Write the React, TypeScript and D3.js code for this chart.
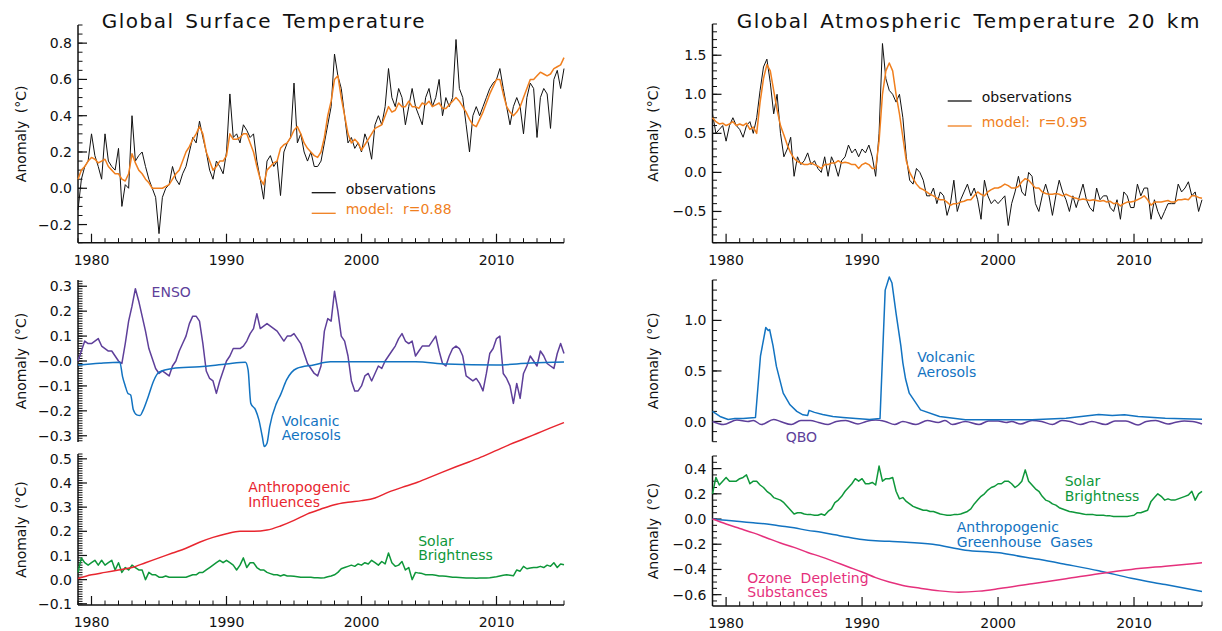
import React, { useEffect, useRef } from "react";
import * as d3 from "d3";

const W = 1222;
const H = 631;
const FONT = "'DejaVu Sans', Verdana, sans-serif";

// quarterly samples, 1979.00 .. 2015.00
const quarters = d3.range(0, 145).map(i => 1979 + i / 4);

// ---- Global surface temperature (quarterly) ----
const sfcObs = [
  -0.12, 0.05, 0.12, 0.15, 0.3, 0.18, 0.12, 0.05, 0.3, 0.15, 0.12, 0.1,
  0.22, -0.1, 0.02, 0.0, 0.4, 0.15, 0.18, 0.2, 0.12, 0.05, 0.0, -0.05,
  -0.25, -0.05, 0.0, 0.02, 0.12, 0.05, 0.02, 0.08, 0.12, 0.2, 0.28, 0.25,
  0.37, 0.28, 0.2, 0.1, 0.05, 0.15, 0.12, 0.08, 0.2, 0.52, 0.28, 0.3,
  0.25, 0.35, 0.32, 0.28, 0.3, 0.15, 0.05, -0.06, 0.15, 0.18, 0.12, 0.15,
  -0.04, 0.2, 0.25, 0.28, 0.58, 0.25, 0.3, 0.2, 0.15, 0.2, 0.12, 0.12,
  0.15, 0.25, 0.35, 0.45, 0.74, 0.62, 0.55, 0.4, 0.25, 0.28, 0.22, 0.25,
  0.2, 0.3, 0.25, 0.16, 0.35, 0.4, 0.35, 0.45, 0.66, 0.5, 0.45, 0.55,
  0.5, 0.35, 0.45, 0.55, 0.45, 0.4, 0.35, 0.5, 0.55, 0.45, 0.5, 0.6,
  0.4, 0.5, 0.45, 0.5, 0.82, 0.55, 0.5, 0.35, 0.2, 0.4, 0.45, 0.4,
  0.45, 0.5, 0.55, 0.58, 0.6, 0.66, 0.55, 0.45, 0.35, 0.45, 0.5, 0.45,
  0.3, 0.5, 0.58, 0.55, 0.28, 0.5, 0.55, 0.52, 0.33, 0.6, 0.65, 0.55,
  0.66,
];
const sfcModel = [
  0.05, 0.1, 0.12, 0.15, 0.17, 0.16, 0.14, 0.15, 0.16, 0.12, 0.1, 0.08,
  0.08, 0.05, 0.04, 0.08, 0.19, 0.14, 0.1, 0.08, 0.05, 0.03, 0.0, 0.0,
  0.0, 0.0, 0.01, 0.02, 0.05, 0.08, 0.1, 0.15, 0.2, 0.23, 0.27, 0.3,
  0.34, 0.3, 0.2, 0.15, 0.1, 0.12, 0.15, 0.15, 0.18, 0.3, 0.27, 0.27,
  0.28, 0.3, 0.3, 0.25, 0.2, 0.12, 0.05, 0.02, 0.1, 0.12, 0.14, 0.15,
  0.22, 0.24, 0.25, 0.28, 0.32, 0.34, 0.3, 0.25, 0.22, 0.2, 0.18, 0.17,
  0.2, 0.28, 0.4, 0.48, 0.6, 0.62, 0.5, 0.4, 0.3, 0.25, 0.27, 0.25,
  0.21, 0.24, 0.27, 0.3, 0.33, 0.34, 0.35, 0.4, 0.45, 0.42, 0.43, 0.47,
  0.45, 0.45, 0.48, 0.45, 0.45, 0.44, 0.47, 0.46, 0.48, 0.45, 0.46, 0.47,
  0.44, 0.44, 0.46, 0.48, 0.5, 0.48, 0.45, 0.42, 0.38, 0.35, 0.34, 0.38,
  0.42, 0.47, 0.52, 0.56, 0.6, 0.6, 0.52, 0.45, 0.42, 0.4, 0.42, 0.45,
  0.5, 0.55, 0.6, 0.6, 0.62, 0.64, 0.63, 0.62, 0.63, 0.66, 0.67, 0.68,
  0.72,
];

// ---- Atmospheric temperature 20 km (quarterly) ----
const atmObs = [
  0.75, 0.5, 0.55, 0.6, 0.4, 0.6, 0.7, 0.6, 0.55, 0.45, 0.6, 0.65,
  0.5, 0.7, 1.05, 1.35, 1.45, 1.15, 0.75, 1.0, 0.5, 0.2, 0.3, 0.45,
  -0.05, 0.2, 0.1, 0.15, 0.25, 0.1, 0.15, 0.05, 0.0, 0.2, -0.05, 0.2,
  0.1, -0.05, 0.15, 0.2, 0.35, 0.25, 0.3, 0.2, 0.3, 0.25, 0.35, 0.2,
  -0.05, 0.5, 1.65, 1.2, 1.05, 1.0, 0.9, 1.0, 0.7, 0.2, -0.1, -0.15,
  0.05, 0.0, -0.1, -0.3, -0.3, -0.2, -0.4, -0.25, -0.3, -0.55, -0.4, -0.1,
  -0.5, -0.35, -0.25, -0.15, -0.3, -0.2, -0.35, -0.6, -0.1, -0.3, -0.4, -0.35,
  -0.4, -0.35, -0.3, -0.68, -0.4, -0.25, -0.05, -0.25, -0.3, 0.0, -0.05, -0.4,
  -0.5, -0.3, -0.15, -0.3, -0.55, -0.3, -0.1, -0.25, -0.35, -0.5, -0.3, -0.45,
  -0.3, -0.15, -0.35, -0.45, -0.5, -0.2, -0.35, -0.3, -0.3, -0.45, -0.5, -0.35,
  -0.6, -0.25, -0.3, -0.45, -0.45, -0.15, -0.3, -0.2, -0.2, -0.6, -0.35, -0.5,
  -0.6, -0.5, -0.4, -0.4, -0.4, -0.15, -0.25, -0.2, -0.12, -0.3, -0.25, -0.5,
  -0.35,
];
const atmModel = [
  0.7, 0.65, 0.62, 0.63, 0.6, 0.62, 0.65, 0.6, 0.62, 0.6, 0.63, 0.55,
  0.58, 0.5, 0.9, 1.2, 1.38, 1.3, 1.05, 0.8, 0.6, 0.48, 0.35, 0.25,
  0.18, 0.14, 0.12, 0.1, 0.1, 0.12, 0.1, 0.08, 0.05, 0.1, 0.1, 0.12,
  0.12, 0.15, 0.12, 0.13, 0.12, 0.1, 0.1, 0.05, 0.1, 0.12, 0.1, 0.05,
  0.05, 0.4, 1.0, 1.3, 1.4, 1.3, 1.0, 0.75, 0.45, 0.15, 0.0, -0.08,
  -0.15, -0.2, -0.22, -0.25, -0.28, -0.3, -0.33, -0.35, -0.35, -0.38, -0.42, -0.4,
  -0.4, -0.38, -0.37, -0.35, -0.35, -0.3, -0.25, -0.28, -0.3, -0.25, -0.22, -0.2,
  -0.2, -0.18, -0.15, -0.17, -0.2, -0.2, -0.18, -0.12, -0.08, -0.1, -0.15, -0.2,
  -0.2, -0.25, -0.27, -0.28, -0.28, -0.27, -0.28, -0.3, -0.28, -0.3, -0.32, -0.33,
  -0.35, -0.34, -0.35, -0.36, -0.35, -0.36, -0.37, -0.36, -0.38, -0.37, -0.4, -0.39,
  -0.43, -0.4, -0.38, -0.38, -0.37, -0.35, -0.33, -0.3, -0.35, -0.42, -0.38, -0.38,
  -0.38, -0.37, -0.36, -0.38, -0.38, -0.35, -0.35, -0.34, -0.35, -0.3, -0.3, -0.32,
  -0.33,
];

// ---- Surface contributions ----
const enso = [
  0.0, 0.04, 0.08, 0.07, 0.07, 0.08, 0.09, 0.06, 0.05, 0.04, 0.04, 0.02,
  0.0, -0.01, 0.07, 0.16, 0.22, 0.29, 0.24, 0.18, 0.12, 0.05, 0.01, -0.03,
  -0.05, -0.04, -0.05, -0.06, -0.02, 0.0, 0.04, 0.07, 0.1, 0.15, 0.18, 0.18,
  0.16, 0.07, -0.04, -0.07, -0.08, -0.13, -0.08, -0.04, 0.0, 0.02, 0.05, 0.05,
  0.05, 0.06, 0.08, 0.11, 0.13, 0.19, 0.13, 0.14, 0.15, 0.14, 0.13, 0.12,
  0.1, 0.08, 0.1, 0.1, 0.11, 0.09, 0.07, 0.03, -0.01, -0.03, -0.05, -0.06,
  -0.02, 0.12, 0.17, 0.16, 0.28, 0.2, 0.1, 0.08, 0.02, -0.08, -0.12, -0.12,
  -0.1, -0.06, -0.05, -0.08, -0.05, -0.02, -0.03, 0.0, 0.02, 0.04, 0.06, 0.09,
  0.11, 0.08, 0.07, 0.08, 0.02, 0.04, 0.06, 0.06, 0.06, 0.08, 0.1, 0.04,
  -0.01, -0.02, 0.02, 0.05, 0.06, 0.05, 0.02, -0.06, -0.07, -0.08, -0.07, -0.09,
  -0.12, -0.05, 0.03, 0.05, 0.09, 0.1, -0.05, -0.07, -0.1, -0.17, -0.09, -0.15,
  -0.05, -0.02, 0.02, 0.0, -0.02, 0.04, 0.02, -0.01, -0.02, -0.03, 0.03, 0.07,
  0.03,
];
const solarSfc = [
  0.03, 0.09, 0.07, 0.06, 0.07, 0.08, 0.06, 0.08, 0.06, 0.07, 0.08, 0.04,
  0.07, 0.03, 0.05, 0.04, 0.06, 0.05, 0.04, 0.04, 0.0, 0.03, 0.02, 0.02,
  0.01, 0.01, 0.015, 0.01, 0.01, 0.01, 0.01, 0.01, 0.01, 0.015, 0.02, 0.02,
  0.03, 0.03, 0.04, 0.05, 0.06, 0.07, 0.08, 0.07, 0.08, 0.07, 0.06, 0.04,
  0.06, 0.09, 0.05, 0.07, 0.07, 0.05, 0.04, 0.04, 0.03, 0.025, 0.02, 0.02,
  0.015, 0.02, 0.015, 0.015, 0.014, 0.012, 0.01, 0.01, 0.01, 0.01, 0.008, 0.008,
  0.007, 0.008, 0.012, 0.015, 0.02, 0.03, 0.045, 0.05, 0.055, 0.06, 0.055, 0.065,
  0.06, 0.07, 0.065, 0.08, 0.07, 0.06, 0.075, 0.065, 0.11, 0.07, 0.055, 0.06,
  0.075, 0.04, 0.05, 0.0, 0.03, 0.027, 0.025, 0.02, 0.02, 0.02, 0.018, 0.015,
  0.015, 0.014, 0.012, 0.01, 0.01, 0.009, 0.008, 0.007, 0.007, 0.007, 0.006, 0.007,
  0.007, 0.007, 0.008, 0.01, 0.012, 0.015, 0.018, 0.02, 0.018, 0.016, 0.04, 0.035,
  0.055, 0.045, 0.048, 0.05, 0.05, 0.055, 0.05, 0.06, 0.055, 0.07, 0.05, 0.065,
  0.062,
];
const volcSfc: [number, number][] = [
  [1979, -0.016], [1980.6, -0.009], [1982.1, -0.005], [1982.3, -0.063], [1982.5, -0.1],
  [1982.7, -0.13], [1982.9, -0.136], [1983.1, -0.196], [1983.35, -0.216], [1983.6, -0.219],
  [1983.8, -0.2], [1984.2, -0.143], [1984.6, -0.08], [1985, -0.045], [1986, -0.03],
  [1988, -0.023], [1990, -0.012], [1991.4, -0.005], [1991.6, -0.036], [1991.8, -0.17],
  [1992.15, -0.196], [1992.4, -0.236], [1992.65, -0.303], [1992.8, -0.343], [1993.0, -0.33],
  [1993.2, -0.263], [1993.7, -0.17], [1994.0, -0.136], [1994.45, -0.076], [1995.2, -0.03],
  [1996.45, -0.016], [1997.7, -0.003], [2004, -0.003], [2006.3, -0.012], [2010, -0.016],
  [2012.5, -0.008], [2015, -0.004],
];
const anthSfc: [number, number][] = [
  [1979, 0.005], [1980, 0.02], [1981, 0.03], [1982, 0.04], [1983, 0.05], [1984, 0.07],
  [1985, 0.09], [1986, 0.11], [1987, 0.13], [1988, 0.155], [1989, 0.175], [1990, 0.19],
  [1991, 0.2], [1992, 0.2], [1993, 0.205], [1994, 0.222], [1995, 0.245], [1996, 0.272],
  [1997, 0.292], [1998, 0.31], [1999, 0.32], [2000, 0.327], [2001, 0.338], [2002, 0.362],
  [2003, 0.382], [2004, 0.4], [2005, 0.422], [2006, 0.445], [2007, 0.467], [2008, 0.488],
  [2009, 0.51], [2010, 0.535], [2011, 0.56], [2012, 0.582], [2013, 0.605], [2014, 0.628],
  [2015, 0.65],
];

// ---- Stratospheric contributions ----
const volcAtm: [number, number][] = [
  [1979, 0.1], [1979.55, 0.05], [1980.15, 0.02], [1980.65, 0.03], [1981.25, 0.03],
  [1982.16, 0.04], [1982.53, 0.65], [1982.92, 0.93], [1983.1, 0.9], [1983.2, 0.91],
  [1983.45, 0.75], [1983.7, 0.545], [1984.2, 0.28], [1984.7, 0.165], [1985.2, 0.1],
  [1985.65, 0.066], [1986.0, 0.06], [1986.1, 0.11], [1986.5, 0.09], [1987.1, 0.07],
  [1987.85, 0.05], [1988.6, 0.04], [1989.55, 0.03], [1990.55, 0.02], [1991.32, 0.03],
  [1991.7, 1.3], [1992.0, 1.43], [1992.2, 1.37], [1992.5, 1.07], [1992.85, 0.75],
  [1993.0, 0.58], [1993.2, 0.42], [1993.47, 0.28], [1994.3, 0.115], [1995.7, 0.05],
  [1997.6, 0.017], [2000.1, 0.017], [2002.5, 0.017], [2005.0, 0.033], [2007.4, 0.07],
  [2008.4, 0.06], [2009.3, 0.066], [2010.3, 0.05], [2012.3, 0.033], [2015, 0.023],
];
const qbo: [number, number][] = [
  [1979, 0.0], [1979.8, -0.03], [1980.8, 0.015], [1981.6, 0.0], [1982.0, 0.01], [1982.6, -0.03],
  [1983.5, 0.02], [1984.0, 0.0], [1984.8, -0.03], [1985.5, 0.01], [1986.2, 0.01], [1986.8, -0.01],
  [1987.5, -0.03], [1988.1, 0.0], [1988.8, 0.01], [1989.7, -0.025], [1990.3, 0.0], [1991.0, 0.015],
  [1991.7, 0.0], [1992.4, -0.03], [1993.0, 0.0], [1993.96, -0.03], [1994.8, 0.01], [1995.6, -0.01],
  [1996.1, 0.01], [1996.65, -0.03], [1997.6, 0.0], [1998.6, -0.03], [1999.3, 0.005], [2000.0, 0.005],
  [2000.6, -0.01], [2001.0, 0.0], [2001.65, -0.025], [2002.5, 0.01], [2003.2, 0.0], [2004.0, -0.03],
  [2004.7, 0.01], [2005.3, 0.0], [2006.05, -0.03], [2006.9, 0.0], [2007.9, -0.03], [2008.6, 0.005],
  [2009.4, 0.005], [2010.3, -0.035], [2010.9, 0.0], [2011.6, 0.01], [2012.5, -0.025], [2013.0, -0.01],
  [2013.7, 0.005], [2014.3, 0.0], [2015.0, -0.025],
];
const solarAtm = [
  0.2, 0.33, 0.27, 0.3, 0.33, 0.3, 0.3, 0.3, 0.32, 0.33, 0.35, 0.28,
  0.3, 0.3, 0.27, 0.25, 0.22, 0.2, 0.17, 0.16, 0.15, 0.13, 0.1, 0.07,
  0.04, 0.05, 0.05, 0.04, 0.035, 0.035, 0.03, 0.03, 0.04, 0.03, 0.06, 0.08,
  0.13, 0.15, 0.18, 0.22, 0.25, 0.28, 0.32, 0.3, 0.32, 0.28, 0.28, 0.29,
  0.27, 0.42, 0.3, 0.32, 0.32, 0.33, 0.22, 0.16, 0.17, 0.14, 0.12, 0.1,
  0.09, 0.08, 0.07, 0.07, 0.06, 0.06, 0.05, 0.04, 0.035, 0.03, 0.03, 0.035,
  0.035, 0.04, 0.05, 0.06, 0.08, 0.12, 0.15, 0.18, 0.2, 0.23, 0.25, 0.26,
  0.28, 0.28, 0.3, 0.3, 0.28, 0.25, 0.27, 0.3, 0.39, 0.3, 0.27, 0.24,
  0.22, 0.18, 0.15, 0.14, 0.12, 0.11, 0.09, 0.08, 0.07, 0.06, 0.055, 0.05,
  0.045, 0.04, 0.035, 0.035, 0.035, 0.03, 0.03, 0.03, 0.025, 0.025, 0.02, 0.02,
  0.02, 0.02, 0.02, 0.025, 0.03, 0.05, 0.05, 0.06, 0.07, 0.14, 0.17, 0.2,
  0.18, 0.15, 0.16, 0.15, 0.15, 0.16, 0.17, 0.18, 0.19, 0.22, 0.15, 0.2,
  0.22,
];
const ghgAtm: [number, number][] = [
  [1979, 0.0], [1980, -0.01], [1981, -0.02], [1982, -0.03], [1983, -0.04], [1984, -0.055],
  [1985, -0.07], [1986, -0.09], [1987, -0.105], [1988, -0.125], [1989, -0.145], [1990, -0.162],
  [1991, -0.172], [1992, -0.177], [1993, -0.182], [1995.2, -0.2], [1997.6, -0.247], [2000.1, -0.268],
  [2001.3, -0.29], [2003, -0.32], [2005, -0.36], [2007.4, -0.41], [2009.8, -0.47], [2012.3, -0.52],
  [2015, -0.575],
];
const odsAtm: [number, number][] = [
  [1979, 0.0], [1980, -0.04], [1981, -0.075], [1982, -0.11], [1983, -0.15], [1984, -0.19],
  [1985, -0.225], [1986, -0.265], [1987, -0.3], [1988, -0.34], [1989, -0.38], [1990, -0.42],
  [1991, -0.465], [1992, -0.5], [1993, -0.527], [1994.2, -0.548], [1995.7, -0.57], [1997.1, -0.58],
  [1998.6, -0.572], [2000.1, -0.552], [2002.5, -0.513], [2005, -0.474], [2007.4, -0.434],
  [2009.8, -0.4], [2012.3, -0.374], [2015, -0.347],
];

const decadeTicks = [1980, 1990, 2000, 2010];
const yearTicks = d3.range(1979, 2016);

const COL = {
  obs: "#111111",
  model: "#f07f1e",
  enso: "#5e3f9a",
  volc: "#1273c1",
  anth: "#e8262f",
  solar: "#0e973a",
  ods: "#e5307c",
};

const q = (vals: number[]): [number, number][] => quarters.map((t, i) => [t, vals[i]]);

const panels = [
  {
    side: "L", domain: [-0.3, 0.9], range: [242.7, 25], major: [-0.2, 0, 0.2, 0.4, 0.6, 0.8], minor: 0.05, xAxis: true,
    series: [
      { data: q(sfcObs), color: COL.obs, width: 1, smooth: false },
      { data: q(sfcModel), color: COL.model, width: 1.5, smooth: false },
    ],
    notes: [],
    legend: { x: 311.7, lines: [{ y: 192.7, text: "observations", color: COL.obs }, { y: 213.3, text: "model:  r=0.88", color: COL.model }] },
  },
  {
    side: "L", domain: [-0.325, 0.325], range: [442, 280], major: [-0.3, -0.2, -0.1, 0, 0.1, 0.2, 0.3], minor: 0.01, xAxis: false, zero: "\u22120.0",
    series: [
      { data: q(enso), color: COL.enso, width: 1.5, smooth: false },
      { data: volcSfc, color: COL.volc, width: 1.5, smooth: true },
    ],
    notes: [
      { x: 1984.45, y: 0.255, lines: ["ENSO"], color: COL.enso },
      { x: 1994.09, y: -0.259, lines: ["Volcanic", "Aerosols"], color: COL.volc },
    ],
  },
  {
    side: "L", domain: [-0.105, 0.52], range: [605, 454], major: [-0.1, 0, 0.1, 0.2, 0.3, 0.4, 0.5], minor: 0.01, xAxis: true,
    series: [
      { data: q(solarSfc), color: COL.solar, width: 1.5, smooth: false },
      { data: anthSfc, color: COL.anth, width: 1.5, smooth: true },
    ],
    notes: [
      { x: 1991.61, y: 0.361, lines: ["Anthropogenic", "Influences"], color: COL.anth },
      { x: 2004.2, y: 0.14, lines: ["Solar", "Brightness"], color: COL.solar },
    ],
  },
  {
    side: "R", domain: [-0.9, 1.9], range: [242.7, 24], major: [-0.5, 0, 0.5, 1, 1.5], minor: 0.1, xAxis: true,
    series: [
      { data: q(atmObs), color: COL.obs, width: 1, smooth: false },
      { data: q(atmModel), color: COL.model, width: 1.5, smooth: false },
    ],
    notes: [],
    legend: { x: 947.7, lines: [{ y: 101, text: "observations", color: COL.obs }, { y: 126, text: "model:  r=0.95", color: COL.model }] },
  },
  {
    side: "R", domain: [-0.2, 1.4], range: [441.7, 280], major: [0, 0.5, 1], minor: 0.1, xAxis: false,
    series: [
      { data: qbo, color: COL.enso, width: 1.5, smooth: true },
      { data: volcAtm, color: COL.volc, width: 1.5, smooth: false },
    ],
    notes: [
      { x: 1994.06, y: 0.586, lines: ["Volcanic", "Aerosols"], color: COL.volc },
      { x: 1984.38, y: -0.206, lines: ["QBO"], color: COL.enso },
    ],
  },
  {
    side: "R", domain: [-0.69, 0.5], range: [606, 456], major: [-0.6, -0.4, -0.2, 0, 0.2, 0.4], minor: 0.05, xAxis: true,
    series: [
      { data: q(solarAtm), color: COL.solar, width: 1.5, smooth: false },
      { data: ghgAtm, color: COL.volc, width: 1.5, smooth: true },
      { data: odsAtm, color: COL.ods, width: 1.5, smooth: true },
    ],
    notes: [
      { x: 2004.9, y: 0.262, lines: ["Solar", "Brightness"], color: COL.solar },
      { x: 1996.96, y: -0.104, lines: ["Anthropogenic", "Greenhouse  Gases"], color: COL.volc },
      { x: 1981.56, y: -0.507, lines: ["Ozone  Depleting", "Substances"], color: COL.ods },
    ],
  },
];

const titles = [
  { x: 101.7, text: "Global Surface Temperature" },
  { x: 736.7, text: "Global Atmospheric Temperature 20 km" },
];

export default function App() {
  const ref = useRef<SVGSVGElement>(null);

  useEffect(() => {
    const svg = d3.select(ref.current);
    svg.selectAll("*").remove();
    const fmt = d3.format(".1f");

    svg.selectAll("text.title")
      .data(titles)
      .enter()
      .append("text")
      .attr("class", "title")
      .attr("x", d => d.x)
      .attr("y", 27.5)
      .attr("font-size", 20)
      .attr("letter-spacing", 1.5)
      .attr("word-spacing", 3)
      .attr("fill", "#111")
      .text(d => d.text);

    panels.forEach(p => {
      const xr = p.side === "L" ? [78, 564] : [712.5, 1202];
      const x = d3.scaleLinear().domain([1979, 2015]).range(xr);
      const y = d3.scaleLinear().domain(p.domain).range(p.range);
      const g = svg.append("g");
      const x0 = xr[0];
      const yb = p.range[0];
      const yt = p.range[1];

      // y axis
      const lo = Math.ceil(p.domain[0] / p.minor - 1e-6);
      const hi = Math.floor(p.domain[1] / p.minor + 1e-6);
      const minor = d3.range(lo, hi + 1).map(k => k * p.minor);
      g.selectAll("line.ymin")
        .data(minor)
        .enter()
        .append("line")
        .attr("x1", x0).attr("x2", x0 + 4.5)
        .attr("y1", d => y(d)).attr("y2", d => y(d))
        .attr("stroke", "#111").attr("stroke-width", 1);
      g.selectAll("line.ymaj")
        .data(p.major)
        .enter()
        .append("line")
        .attr("x1", x0).attr("x2", x0 + 9)
        .attr("y1", d => y(d)).attr("y2", d => y(d))
        .attr("stroke", "#111").attr("stroke-width", 1.2);
      g.selectAll("text.ylab")
        .data(p.major)
        .enter()
        .append("text")
        .attr("x", x0 - 6)
        .attr("y", d => y(d))
        .attr("dy", "0.36em")
        .attr("text-anchor", "end")
        .attr("font-size", 14)
        .attr("fill", "#111")
        .text(d => (Math.abs(d) < 1e-9 && p.zero ? p.zero : fmt(d)));
      g.append("line")
        .attr("x1", x0).attr("x2", x0)
        .attr("y1", yt).attr("y2", yb)
        .attr("stroke", "#111").attr("stroke-width", 1.5);

      const cx = p.side === "L" ? 21 : 653;
      const cy = (yt + yb) / 2;
      g.append("text")
        .attr("transform", `translate(${cx},${cy}) rotate(-90)`)
        .attr("text-anchor", "middle")
        .attr("dy", "0.36em")
        .attr("font-size", 14)
        .attr("word-spacing", 3)
        .attr("fill", "#111")
        .text("Anomaly (°C)");

      // x axis
      if (p.xAxis) {
        g.append("line")
          .attr("x1", xr[0]).attr("x2", xr[1])
          .attr("y1", yb).attr("y2", yb)
          .attr("stroke", "#111").attr("stroke-width", 1.5);
        g.selectAll("line.xmin")
          .data(yearTicks)
          .enter()
          .append("line")
          .attr("x1", d => x(d)).attr("x2", d => x(d))
          .attr("y1", yb).attr("y2", d => (d % 10 === 0 ? yb - 9 : yb - 4.5))
          .attr("stroke", "#111").attr("stroke-width", d => (d % 10 === 0 ? 1.2 : 1));
        g.selectAll("text.xlab")
          .data(decadeTicks)
          .enter()
          .append("text")
          .attr("x", d => x(d))
          .attr("y", yb + 22)
          .attr("text-anchor", "middle")
          .attr("font-size", 14)
          .attr("fill", "#111")
          .text(d => d);
      }

      // series
      p.series.forEach(s => {
        const line = d3.line<[number, number]>()
          .x(d => x(d[0]))
          .y(d => y(d[1]))
          .curve(s.smooth ? d3.curveMonotoneX : d3.curveLinear);
        g.append("path")
          .datum(s.data)
          .attr("d", line)
          .attr("fill", "none")
          .attr("stroke", s.color)
          .attr("stroke-width", s.width)
          .attr("stroke-linejoin", "round");
      });

      // annotations
      p.notes.forEach(n => {
        const t = g.append("text")
          .attr("x", x(n.x))
          .attr("y", y(n.y))
          .attr("font-size", 14)
          .attr("fill", n.color);
        n.lines.forEach((ln, i) => {
          t.append("tspan")
            .attr("x", x(n.x))
            .attr("dy", i === 0 ? 0 : 14.5)
            .attr("xml:space", "preserve")
            .text(ln);
        });
      });

      // legend
      if (p.legend) {
        const lg = p.legend;
        lg.lines.forEach(l => {
          g.append("line")
            .attr("x1", lg.x).attr("x2", lg.x + 24)
            .attr("y1", l.y).attr("y2", l.y)
            .attr("stroke", l.color).attr("stroke-width", 1.3);
          g.append("text")
            .attr("x", lg.x + 34)
            .attr("y", l.y + 1)
            .attr("font-size", 14)
            .attr("fill", l.color)
            .style("white-space", "pre")
            .text(l.text);
        });
      }
    });
  }, []);

  return (
    <svg
      ref={ref}
      width={W}
      height={H}
      style={{ display: "block", position: "absolute", left: 0, top: 0, fontFamily: FONT, background: "#fff" }}
    />
  );
}
